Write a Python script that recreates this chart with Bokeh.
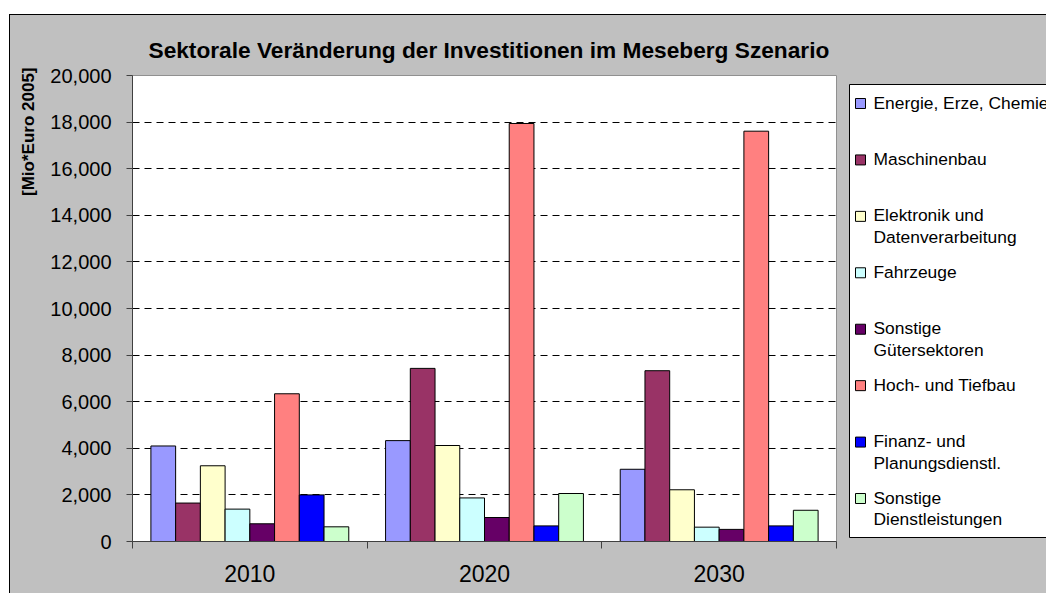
from bokeh.plotting import figure
from bokeh.models import Range1d, FixedTicker, NumeralTickFormatter, Spacer, Title
from bokeh.layouts import row, column
from bokeh.embed import file_html
from bokeh.resources import INLINE
from bokeh.core.properties import value

# ---------------- data ----------------
years = ["2010", "2020", "2030"]
sectors = [
    "Energie, Erze, Chemie",
    "Maschinenbau",
    "Elektronik und\nDatenverarbeitung",
    "Fahrzeuge",
    "Sonstige\nGütersektoren",
    "Hoch- und Tiefbau",
    "Finanz- und\nPlanungsdienstl.",
    "Sonstige\nDienstleistungen",
]
colors = ["#9999FF", "#993366", "#FFFFCC", "#CCFFFF",
          "#660066", "#FF8080", "#0000FF", "#CCFFCC"]

energie = [4100, 4330, 3100]
maschinenbau = [1650, 7430, 7330]
elektronik = [3250, 4120, 2220]
fahrzeuge = [1390, 1870, 615]
sonstige_gueter = [760, 1030, 520]
hoch_tiefbau = [6340, 17940, 17610]
finanz = [2000, 670, 670]
sonstige_dienst = [630, 2060, 1340]
series = [energie, maschinenbau, elektronik, fahrzeuge,
          sonstige_gueter, hoch_tiefbau, finanz, sonstige_dienst]

y_ticks = list(range(0, 20001, 2000))

title_text = "Sektorale Veränderung der Investitionen im Meseberg Szenario"
y_title = "[Mio*Euro 2005]"
FONT = "Liberation Sans"
GRAY = "#C0C0C0"
AXIS = "#404040"

# ---------------- main chart ----------------
W1, H = 830, 578
p1 = figure(width=W1, height=H, output_backend="svg", toolbar_location=None,
            x_range=Range1d(0, len(years)), y_range=Range1d(0, 20000),
            min_border_left=122, min_border_right=4,
            min_border_top=60, min_border_bottom=52,
            border_fill_color=GRAY, background_fill_color="white",
            outline_line_color="#909090")

bw = 0.1054
n = len(series)
for j, vals in enumerate(series):
    xs = [i + 0.5 + (j - (n - 1) / 2) * bw for i in range(len(years))]
    p1.vbar(x=xs, top=vals, bottom=0, width=bw, fill_color=colors[j],
            line_color="black", line_width=1)

# title
p1.title.text = title_text
p1.title.align = "left"
p1.title.offset = 16
p1.title.text_font = FONT
p1.title.text_font_size = "22.7px"
p1.title.text_font_style = "bold"
p1.title.text_color = "black"
p1.title.standoff = 26

# y axis
yax = p1.yaxis[0]
yax.ticker = FixedTicker(ticks=y_ticks)
yax.formatter = NumeralTickFormatter(format="0,0")
yax.major_tick_out = 6
yax.major_tick_in = 0
yax.minor_tick_line_color = None
yax.axis_line_color = AXIS
yax.major_tick_line_color = AXIS
yax.major_label_text_font = FONT
yax.major_label_text_font_size = "20px"
yax.major_label_text_color = "black"
yax.major_label_standoff = 15

# y axis title, at the top end of the axis, left of the tick labels
p1.add_layout(Title(text=y_title, align="right", vertical_align="top",
                    offset=-8, standoff=16,
                    text_font=FONT, text_font_size="17px",
                    text_font_style="bold", text_color="black"), "left")

# x axis: labels at category centres, ticks at category boundaries
xax = p1.xaxis[0]
xax.ticker = FixedTicker(ticks=[i + 0.5 for i in range(len(years))],
                         minor_ticks=list(range(len(years) + 1)))
xax.major_label_overrides = {i + 0.5: y for i, y in enumerate(years)}
xax.major_tick_line_color = None
xax.major_tick_out = 0
xax.major_tick_in = 0
xax.minor_tick_out = 7
xax.minor_tick_in = 0
xax.minor_tick_line_color = AXIS
xax.axis_line_color = AXIS
xax.major_label_text_font = FONT
xax.major_label_text_font_size = "23px"
xax.major_label_text_color = "black"
xax.major_label_standoff = 16

p1.xgrid.grid_line_color = None
p1.ygrid.ticker = FixedTicker(ticks=y_ticks)
p1.ygrid.grid_line_color = "black"
p1.ygrid.grid_line_dash = "7 5"
p1.ygrid.grid_line_width = 1

# ---------------- legend panel ----------------
W2 = 206
FH = 466  # frame height shared with the chart (row aligns frames)
p2 = figure(width=W2, height=H, output_backend="svg", toolbar_location=None,
            x_range=Range1d(0, W2), y_range=Range1d(FH, 0),
            x_axis_type=None, y_axis_type=None,
            min_border_left=0, min_border_right=0,
            min_border_top=60, min_border_bottom=52,
            border_fill_color=GRAY, background_fill_color=GRAY,
            outline_line_color=None)
p2.grid.visible = False

box_l, box_t, box_b, box_r = 9, 9, 462, W2 + 40
p2.quad(left=box_l, right=box_r, top=box_t, bottom=box_b,
        fill_color="white", line_color=None)
p2.line(x=[box_r, box_l, box_l, box_r], y=[box_t, box_t, box_b, box_b],
        line_color="black", line_width=1)

first, pitch, lh = 27, 56.43, 21.7
centers = [first + k * pitch for k in range(len(sectors))]
p2.rect(x=[20] * len(sectors), y=[c + 1 for c in centers], width=10, height=10,
        fill_color=colors, line_color="black", line_width=1)

tx, ty, tt = [], [], []
for c, name in zip(centers, sectors):
    for k, line in enumerate(name.split("\n")):
        tx.append(33)
        ty.append(c + k * lh)
        tt.append(line)
p2.text(x=tx, y=ty, text=tt, text_font=value(FONT), text_font_size="17.4px",
        text_color="black", text_baseline="middle", text_align="left")

# ---------------- page frame: white margin + thin black border ----------------
top_line = Spacer(width=1036, height=1, styles={"background-color": "black"})
left_line = Spacer(width=1, height=H + 1, styles={"background-color": "black"})
charts = row(p1, p2, styles={"background-color": GRAY})
body = column(top_line, charts)
layout = column(Spacer(width=1046, height=14),
                row(Spacer(width=9, height=H + 1), left_line, body))

open("out.html", "w").write(file_html(layout, INLINE))
